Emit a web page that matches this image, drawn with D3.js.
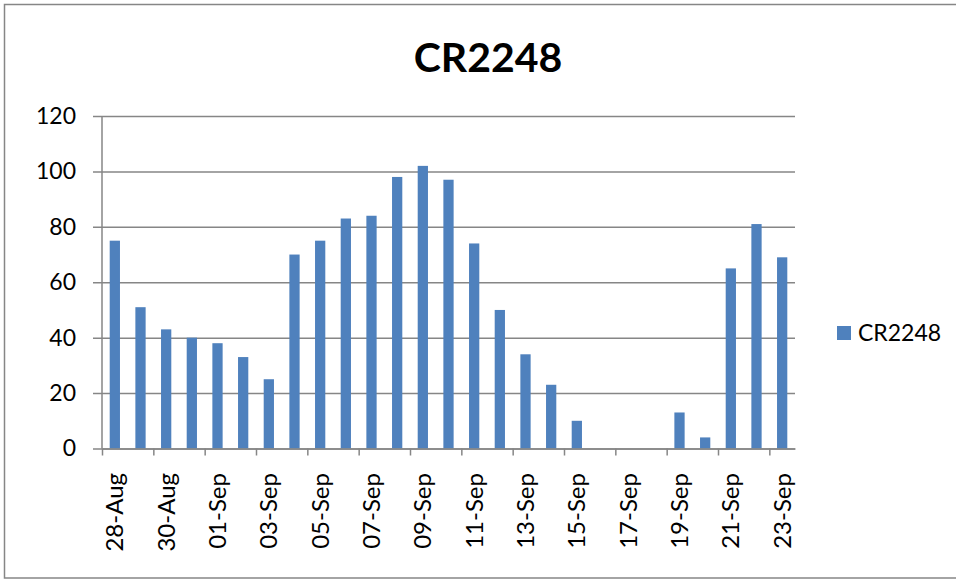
<!DOCTYPE html>
<html>
<head>
<meta charset="utf-8">
<script src="https://cdn.jsdelivr.net/npm/d3@7/dist/d3.min.js"></script>
<style>
  html, body { margin: 0; padding: 0; background: #fff; }
  svg { display: block; }
  text { font-family: Lato, "Open Sans", sans-serif; fill: #000; }
</style>
</head>
<body>
<svg id="chart" width="956" height="580"></svg>
<script>
const title = "CR2248";
const seriesName = "CR2248";
const categories = ["28-Aug","29-Aug","30-Aug","31-Aug","01-Sep","02-Sep","03-Sep","04-Sep","05-Sep","06-Sep","07-Sep","08-Sep","09-Sep","10-Sep","11-Sep","12-Sep","13-Sep","14-Sep","15-Sep","16-Sep","17-Sep","18-Sep","19-Sep","20-Sep","21-Sep","22-Sep","23-Sep"];
const values = [75,51,43,40,38,33,25,70,75,83,84,98,102,97,74,50,34,23,10,0,0,0,13,4,65,81,69];
const yTicks = [0,20,40,60,80,100,120];
const xLabelCategories = categories.filter((d, i) => i % 2 === 0);

(function () {
const svg = d3.select("#chart");
const pLeft = 102, pRight = 795, pTop = 116, pBottom = 448.5;
const barColor = "#4F81BD";
const gridColor = "#868686";

// outer border
svg.append("rect").attr("x", 4.5).attr("y", 4.5).attr("width", 956).attr("height", 573.5)
  .attr("fill", "none").attr("stroke", gridColor).attr("stroke-width", 1.5);

const y = d3.scaleLinear().domain([0, 120]).range([pBottom, pTop]);
const x = d3.scaleBand().domain(categories).range([pLeft, pRight]).paddingInner(0.6).paddingOuter(0.3);
const xb = d3.scaleLinear().domain([0, categories.length]).range([pLeft, pRight]);

// gridlines (including y tick marks extending left)
const grid = svg.append("g").attr("transform", `translate(${pRight},0)`)
  .call(d3.axisLeft(y).tickValues(yTicks).tickSize(pRight - 93).tickFormat(""));
grid.select(".domain").remove();
grid.selectAll("line").attr("stroke", gridColor).attr("stroke-width", 1.5);

// y labels
const yl = svg.append("g").attr("transform", `translate(${pLeft},0)`)
  .call(d3.axisLeft(y).tickValues(yTicks).tickSize(0).tickPadding(26));
yl.select(".domain").remove();
yl.selectAll("text").attr("font-size", 23).attr("font-family", "Lato").attr("fill", "#000");

// bars
svg.append("g").selectAll("rect").data(values).join("rect")
  .attr("x", (d, i) => x(categories[i]))
  .attr("width", x.bandwidth())
  .attr("y", d => y(d))
  .attr("height", d => y(0) - y(d))
  .attr("fill", barColor);

// y axis line
svg.append("line").attr("x1", pLeft).attr("x2", pLeft).attr("y1", pTop).attr("y2", pBottom)
  .attr("stroke", gridColor).attr("stroke-width", 1.5);

// x axis with boundary ticks
const xa = svg.append("g").attr("transform", `translate(0,${pBottom})`)
  .call(d3.axisBottom(xb).tickValues(d3.range(0, categories.length + 1, 2)).tickSize(7).tickFormat("").tickSizeOuter(0));
xa.select(".domain").attr("stroke", gridColor).attr("stroke-width", 1.5);
xa.selectAll("line").attr("stroke", gridColor).attr("stroke-width", 1.5);

// x labels
svg.append("g").selectAll("text").data(xLabelCategories).join("text")
  .attr("transform", d => `translate(${x(d) + x.bandwidth() / 2},473) rotate(-90)`)
  .attr("text-anchor", "end")
  .attr("dy", "0.35em")
  .attr("font-size", 24)
  .text(d => d);

// title
svg.append("text").attr("x", 488).attr("y", 72).attr("text-anchor", "middle")
  .attr("font-size", 41).attr("font-weight", "bold").text(title);

// legend
svg.append("rect").attr("x", 837).attr("y", 326).attr("width", 14).attr("height", 14).attr("fill", barColor);
svg.append("text").attr("x", 858).attr("y", 341).attr("font-size", 23).text(seriesName);
})();
</script>
</body>
</html>
